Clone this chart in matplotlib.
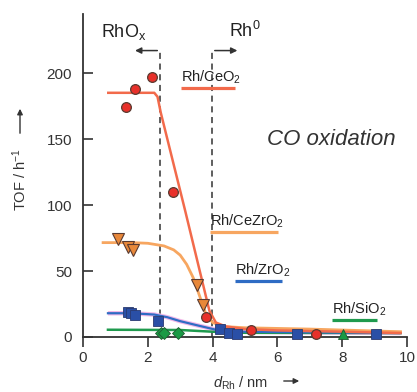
import matplotlib
matplotlib.use("Agg")
import matplotlib.pyplot as plt

plt.rcParams['font.family'] = ['Liberation Sans', 'DejaVu Sans']
plt.rcParams['mathtext.fontset'] = 'custom'
plt.rcParams['mathtext.rm'] = 'Liberation Sans'
plt.rcParams['mathtext.it'] = 'Liberation Sans:italic'

# ---- data ----
ceo2_x = [1.32, 1.60, 2.12, 2.79, 3.80, 5.20, 7.20]
ceo2_y = [174, 188, 197, 110, 15, 5, 2]
ceo2_fit_x = [0.78, 2.20, 2.30, 2.40, 3.15, 3.90, 4.10, 4.40, 5.0, 6.0, 8.0, 9.8]
ceo2_fit_y = [185, 185, 182, 170, 96, 20, 11, 8, 6, 5, 4, 3]

cezro2_x = [1.09, 1.40, 1.53, 3.53, 3.71]
cezro2_y = [74, 68.4, 66, 39.4, 24]
cezro2_fit_x = [0.62, 1.5, 2.0, 2.5, 2.8, 3.0, 3.2, 3.4, 3.6, 3.8, 4.0, 4.3, 5.0, 7.0, 9.8]
cezro2_fit_y = [71.5, 71.5, 71, 69, 66, 62, 55, 45, 31, 17, 11, 8, 7, 6, 4]

zro2_x = [1.40, 1.47, 1.62, 2.32, 4.23, 4.50, 4.74, 6.60, 9.04]
zro2_y = [19, 18, 16.7, 12.4, 5.8, 2.7, 2.3, 2.3, 2.0]
zro2_fit_x = [0.77, 1.5, 2.2, 2.6, 3.0, 3.5, 4.1, 5.0, 7.0, 9.8]
zro2_fit_y = [18, 18, 17, 15, 12, 9, 5.5, 4, 3.5, 3]

sio2_x = [2.41, 2.50, 2.92, 8.03]
sio2_y = [3.3, 3.0, 3.3, 2.0]
sio2_markers = ['D', 'D', 'D', '^']
sio2_fit_x = [0.77, 3.0, 4.0, 5.0, 9.8]
sio2_fit_y = [5.5, 5.3, 4.0, 3.2, 3.0]

boundaries = [2.38, 3.98]
x_ticks = [0, 2, 4, 6, 8, 10]
y_ticks = [0, 50, 100, 150, 200]

# ---- styles ----
c_ceo2_line, c_ceo2_mk = '#f26a4b', '#e8302a'
c_cezro2_line, c_cezro2_mk = '#f7a660', '#e8883a'
c_zro2_line, c_zro2_mk = '#2f6cc4', '#2a4fa6'
c_sio2_line, c_sio2_mk = '#1f9a4e', '#1a9a45'
edge = '#5a3a30'
axc = '#333333'

fig = plt.figure(figsize=(4.17, 3.92), dpi=100)
ax = fig.add_axes([83/417, 55/392, 324/417, 323/392])
ax.set_xlim(0, 10)
ax.set_ylim(0, 244.7)

# fit lines
ax.plot(zro2_fit_x, zro2_fit_y, color='#f2b8e8', lw=3.2, zorder=2, solid_capstyle='butt')
ax.plot(sio2_fit_x, sio2_fit_y, color=c_sio2_line, lw=1.8, zorder=2)
ax.plot(zro2_fit_x, zro2_fit_y, color=c_zro2_line, lw=1.6, zorder=3)
ax.plot(cezro2_fit_x, cezro2_fit_y, color=c_cezro2_line, lw=2.0, zorder=3)
ax.plot(ceo2_fit_x, ceo2_fit_y, color=c_ceo2_line, lw=1.8, zorder=4)

# markers
ax.plot(cezro2_x, cezro2_y, 'v', ms=8.5, mfc=c_cezro2_mk, mec=edge, mew=0.8, ls='none', zorder=6, clip_on=False)
ax.plot(zro2_x, zro2_y, 's', ms=6.5, mfc=c_zro2_mk, mec='#2a3a70', mew=0.6, ls='none', zorder=6, clip_on=False)
for xv, yv, mk in zip(sio2_x, sio2_y, sio2_markers):
    ax.plot([xv], [yv], mk, ms=6.5 if mk == 'D' else 7.5, mfc=c_sio2_mk, mec='#1f5a30', mew=0.6,
            ls='none', zorder=6, clip_on=False)
ax.plot(ceo2_x, ceo2_y, 'o', ms=7, mfc=c_ceo2_mk, mec=edge, mew=0.9, ls='none', zorder=7, clip_on=False)

# boundaries with arrows
top = 217
for b in boundaries:
    ax.plot([b, b], [0, top], ls=(0, (4, 3)), color='#333333', lw=1.1, zorder=1)
ax.annotate('', xy=(1.52, top), xytext=(boundaries[0], top),
            arrowprops=dict(arrowstyle='-|>', color='#333333', lw=1.1, mutation_scale=9))
ax.annotate('', xy=(4.85, top), xytext=(boundaries[1], top),
            arrowprops=dict(arrowstyle='-|>', color='#333333', lw=1.1, mutation_scale=9))
ax.text(0.55, 231, 'RhO$_\\mathrm{x}$', fontsize=13, color='#222222', va='center', ha='left')
ax.text(4.52, 232, 'Rh$^\\mathrm{0}$', fontsize=13, color='#222222', va='center', ha='left')

# series labels with coloured underline
labels = [
    ('Rh/CeO$_2$', 3.02, 190.0, 4.70, 188.5, c_ceo2_line),
    ('Rh/CeZrO$_2$', 3.92, 80.8, 6.03, 79.3, c_cezro2_line),
    ('Rh/ZrO$_2$', 4.69, 44.2, 6.13, 42.7, c_zro2_line),
    ('Rh/SiO$_2$', 7.67, 14.1, 9.06, 12.6, c_sio2_line),
]
for txt, tx, ty, x2, ly, col in labels:
    ax.text(tx, ty, txt, fontsize=10.5, color='#222222', ha='left', va='bottom')
    ax.plot([tx, x2], [ly, ly], color=col, lw=2.3, solid_capstyle='butt', zorder=3)

ax.text(7.65, 150, 'CO oxidation', fontsize=16, style='italic', color='#333333', ha='center', va='center')

# axes styling
for s in ['top', 'right']:
    ax.spines[s].set_visible(False)
for s in ['left', 'bottom']:
    ax.spines[s].set_color(axc)
    ax.spines[s].set_linewidth(1.3)
ax.set_xticks(x_ticks)
ax.set_yticks(y_ticks)
ax.tick_params(axis='y', direction='in', length=7, width=1.2, colors=axc, labelsize=11, pad=8)
ax.tick_params(axis='x', direction='out', length=7, width=1.2, colors=axc, labelsize=11, pad=3)
for lab in ax.get_xticklabels() + ax.get_yticklabels():
    lab.set_color('#333333')

# axis titles with separate arrows
fig.text(20/417, 1 - 180/392, 'TOF / h$^{-1}$', rotation=90, fontsize=10.5,
         ha='center', va='center', color='#333333')
fig.patches  # keep figure-level drawing
fig.add_artist(matplotlib.patches.FancyArrowPatch(
    (20/417, 1 - 136/392), (20/417, 1 - 106/392), transform=fig.transFigure,
    arrowstyle='-|>', mutation_scale=8, color='#333333', lw=1.0))
fig.text(241/417, 1 - 383/392, '$d_\\mathrm{Rh}$ / nm', fontsize=10.5,
         ha='center', va='center', color='#333333')
fig.add_artist(matplotlib.patches.FancyArrowPatch(
    (281/417, 1 - 381/392), (302/417, 1 - 381/392), transform=fig.transFigure,
    arrowstyle='-|>', mutation_scale=8, color='#333333', lw=1.0))

fig.savefig('out.png', dpi=100)
